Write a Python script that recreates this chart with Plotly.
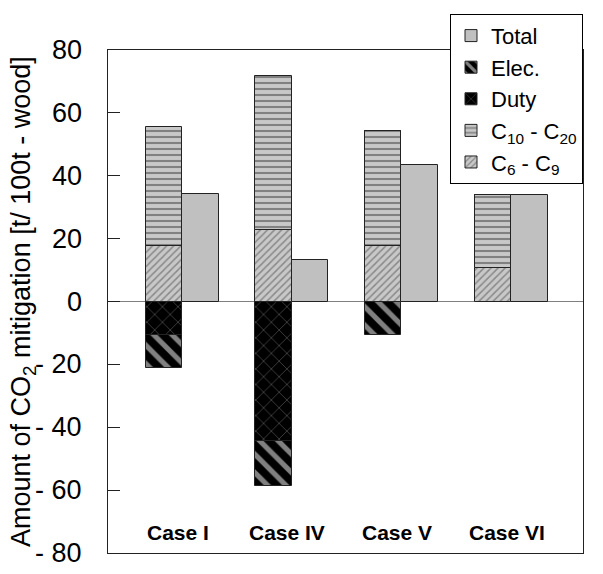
import plotly.graph_objects as go

cases = ["Case I", "Case IV", "Case V", "Case VI"]
c6_c9 = [17.5, 22.6, 17.5, 10.8]
c10_c20 = [37.9, 49.1, 36.6, 23.0]
duty = [-10.5, -44.3, 0, 0]
elec = [-10.8, -14.3, -10.8, 0]
total = [34.1, 13.1, 43.3, 33.8]
yticks = [80, 60, 40, 20, 0, -20, -40, -60, -80]
yticktext = ["80", "60", "40", "20", "0", "- 20", "- 40", "- 60", "- 80"]
ytitle = "Amount of CO<sub>2</sub> mitigation [t/ 100t - wood]"

W = 0.333
idx = list(range(len(cases)))
xs = [i - W / 2 for i in idx]
xt = [i + W / 2 for i in idx]
line = dict(color="#222222", width=1)
FONT = "Liberation Sans, Arial"

fig = go.Figure()
fig.add_trace(go.Bar(x=xs, y=c6_c9, width=W, name="C<sub>6</sub> - C<sub>9</sub>", legendrank=5,
                     marker=dict(color="#c0c0c0", line=line,
                                 pattern=dict(shape="/", fgcolor="#4a4a4a", bgcolor="#c8c8c8", size=5, solidity=0.3))))
fig.add_trace(go.Bar(x=xs, y=c10_c20, width=W, name="C<sub>10</sub> - C<sub>20</sub>", legendrank=4,
                     marker=dict(color="#c0c0c0", line=line,
                                 pattern=dict(shape="-", fgcolor="#3a3a3a", bgcolor="#c8c8c8", size=6, solidity=0.35))))
fig.add_trace(go.Bar(x=xs, y=duty, width=W, name="Duty", legendrank=3,
                     marker=dict(color="#000000", line=line,
                                 pattern=dict(shape="x", fgcolor="#a8a8a8", bgcolor="#000000", size=11, solidity=0.12))))
fig.add_trace(go.Bar(x=xs, y=elec, width=W, name="Elec.", legendrank=2,
                     marker=dict(color="#000000", line=line,
                                 pattern=dict(shape="\\", fgcolor="#ffffff", bgcolor="#000000", size=13, solidity=0.4))))
fig.add_trace(go.Bar(x=xt, y=total, width=W, name="Total", legendrank=1,
                     marker=dict(color="#c0c0c0", line=line)))

for i, c in zip(idx, cases):
    fig.add_annotation(x=i - 0.04, y=-73.5, text="<b>%s</b>" % c, showarrow=False,
                       font=dict(family=FONT, size=21, color="black"))

# y tick labels, placed left of the axis like the original
for v, t in zip(yticks, yticktext):
    fig.add_annotation(xref="paper", yref="y", x=0, y=v, xanchor="right", yanchor="middle",
                       xshift=-24, text=t, showarrow=False,
                       font=dict(family=FONT, size=27, color="black"))

fig.add_annotation(xref="paper", yref="paper", x=-0.18, y=0.5, xanchor="center", yanchor="middle",
                   text=ytitle, textangle=-90, showarrow=False,
                   font=dict(family=FONT, size=27, color="black"))

fig.update_layout(
    width=603, height=574, barmode="relative", bargap=0,
    plot_bgcolor="white", paper_bgcolor="white",
    margin=dict(l=108, r=20, t=50, b=21, autoexpand=False),
    font=dict(family=FONT, color="black"),
    showlegend=True,
    legend=dict(x=0.72, y=1.072, xanchor="left", yanchor="top", bgcolor="white",
                bordercolor="black", borderwidth=1, font=dict(size=22),
                tracegroupgap=0, itemwidth=30),
    xaxis=dict(range=[-0.675, 3.655], showticklabels=False, ticks="", showgrid=False,
               zeroline=False, showline=True, linecolor="#222222", mirror=True, linewidth=1),
    yaxis=dict(range=[-80, 80], tickvals=yticks, showticklabels=False,
               ticks="inside", ticklen=12, tickwidth=1, tickcolor="#222222",
               showgrid=False, zeroline=True, zerolinecolor="#808080", zerolinewidth=1,
               showline=True, linecolor="#222222", mirror=True, linewidth=1),
)

fig.write_html("out.html")
